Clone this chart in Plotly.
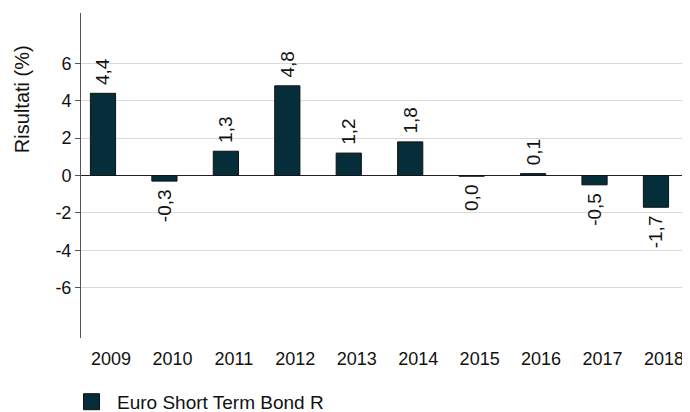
import plotly.graph_objects as go

years = ["2009", "2010", "2011", "2012", "2013", "2014", "2015", "2016", "2017", "2018"]
returns = [4.4, -0.3, 1.3, 4.8, 1.2, 1.8, -0.04, 0.1, -0.5, -1.7]
value_labels = ["4,4", "-0,3", "1,3", "4,8", "1,2", "1,8", "0,0", "0,1", "-0,5", "-1,7"]
y_ticks = [-6, -4, -2, 0, 2, 4, 6]
series_name = "Euro Short Term Bond R"
y_title = "Risultati (%)"

BAR = "#062d3a"
FONT = "Liberation Sans, Arial, sans-serif"

# small gap between bar end and rotated label
bar_text = [(" " + t + " ") for t in value_labels]

fig = go.Figure()
fig.add_trace(go.Bar(
    x=years, y=returns, name=series_name,
    marker=dict(color=BAR, line=dict(color="#111", width=1)),
    width=0.41, offset=-0.335,
    text=bar_text, textposition="outside", textangle=-90, constraintext="none",
    textfont=dict(size=19, color="#111", family=FONT),
    cliponaxis=False, showlegend=False,
))
# legend proxy
fig.add_trace(go.Scatter(
    x=[None], y=[None], mode="markers", name=series_name,
    marker=dict(symbol="square", size=22, color=BAR, line=dict(color="#111", width=1)),
    showlegend=True,
))

fig.add_annotation(
    text=y_title, textangle=-90, xref="paper", yref="paper",
    x=0, y=0.735, xanchor="center", yanchor="middle", xshift=-59,
    showarrow=False, font=dict(size=20, family=FONT, color="#111"),
)

fig.update_layout(
    width=690, height=412,
    margin=dict(l=73, r=8, t=5, b=82, autoexpand=False),
    paper_bgcolor="white", plot_bgcolor="white",
    font=dict(family=FONT, color="#111"),
    legend=dict(orientation="h", x=-0.0246, xanchor="left", y=-0.138, yanchor="top",
                font=dict(size=19, family=FONT, color="#111"), itemsizing="trace",
                itemwidth=41),
    xaxis=dict(
        type="category", range=[-0.488, 9.424], automargin=False,
        showline=False, showgrid=False, zeroline=False,
        ticks="outside", ticklen=4, tickcolor="rgba(0,0,0,0)",
        tickfont=dict(size=18, family=FONT, color="#111"),
    ),
    yaxis=dict(
        range=[-8.7, 8.7], tickvals=y_ticks, ticktext=[str(v) for v in y_ticks],
        automargin=False,
        showline=True, linecolor="#555", linewidth=1,
        ticks="outside", ticklen=5, tickcolor="#555",
        showgrid=True, gridcolor="#d9d9d9", gridwidth=1,
        zeroline=True, zerolinecolor="#222", zerolinewidth=1,
        tickfont=dict(size=18, family=FONT, color="#111"),
    ),
)

fig.write_html("out.html")
